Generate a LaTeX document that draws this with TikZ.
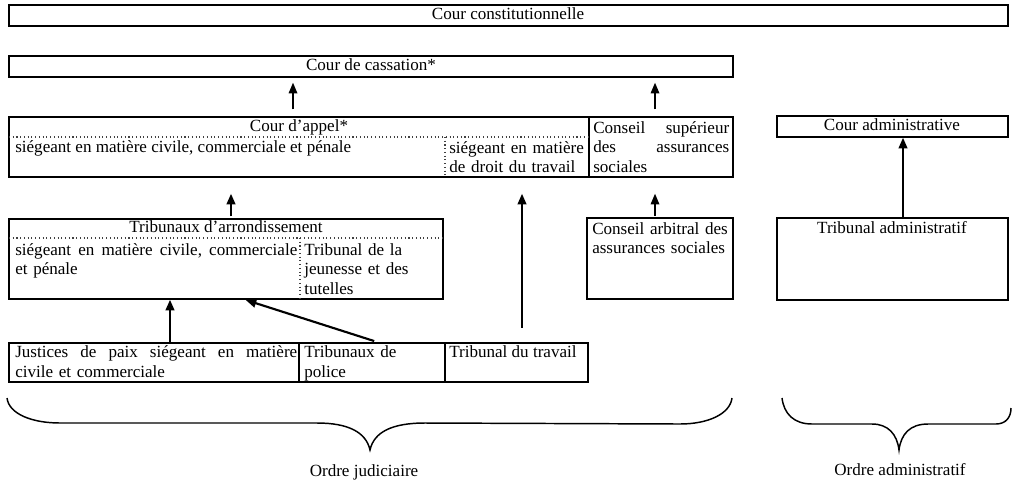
\documentclass[tikz,border=0pt]{standalone}
\usepackage{fontspec}
\setmainfont{Liberation Serif}
\usetikzlibrary{arrows.meta,fit}
\tikzset{
  bx/.style={draw, line width=1.1pt, inner sep=0pt, fit={#1}},
  lbl/.style={inner sep=0pt, anchor=mid},
  lblw/.style={inner sep=0pt, anchor=mid west},
  para/.style={inner sep=0pt, anchor=base west, text width=#1, align=left},
  dots/.style={dotted, line width=0.8pt, draw=black!75},
  divider/.style={line width=1.1pt},
  arr/.style={-{Triangle[length=8pt,width=6.5pt]}, line width=0.9pt},
  arrb/.style={arr, line width=1.6pt},
  brace/.style={line width=1.1pt}
}
\begin{document}
\begin{tikzpicture}[x=0.75pt,y=-0.75pt,font=\fontsize{12.8}{14.8}\selectfont]
\useasboundingbox (0,0) rectangle (1012,486);

% boxes
\node[bx={(9,5) (1008,26)}] (cc) {};
\node[lbl] (cct) at (508,16) {Cour constitutionnelle};

\node[bx={(9,56) (733,77)}] (cass) {};
\node[lbl] (casst) at (371,67) {Cour de cassation*};

\node[bx={(9,117) (733,177)}] (ca) {};
\draw[divider] (ca.north -| 589,0) -- (ca.south -| 589,0);
\draw[dots] (9,137) -- (589,137);
\draw[dots] (445,137) -- (ca.south -| 445,0);
\node[lbl] (cat) at (299,128.5) {Cour d’appel*};
\node[lblw] (cal) at (15,149) {siégeant en matière civile, commerciale et pénale};
\node[para=106pt] (car) at (449,153) {siégeant en matière\\de droit du travail};
\node[para=102pt] (csas) at (593,133) {Conseil\hfill supérieur\\des\hfill assurances\\sociales};

\node[bx={(777,116) (1008,137)}] (cadm) {};
\node[lbl] (cadmt) at (892,127.5) {Cour administrative};

\node[bx={(9,219) (443,299)}] (ta) {};
\draw[dots] (9,238) -- (443,238);
\draw[dots] (300,238) -- (ta.south -| 300,0);
\node[lbl] (tat) at (226,229) {Tribunaux d’arrondissement};
\node[para=211.5pt] (tal) at (15,255) {siégeant\hfill en\hfill matière\hfill civile,\hfill commerciale\\et pénale};
\node[para=104pt] (tjt) at (304,255) {Tribunal de la\\jeunesse et des\\tutelles};

\node[bx={(587,218) (733,299)}] (cas) {};
\node[para=106pt] (cast) at (592,234) {Conseil arbitral des\\assurances sociales};

\node[bx={(777,218) (1008,300)}] (tadm) {};
\node[lbl] (tadmt) at (892,230) {Tribunal administratif};

\node[bx={(9,343) (299,382)}] (jp) {};
\node[bx={(299,343) (445,382)}] (tp) {};
\node[bx={(445,343) (588,382)}] (tt) {};
\node[para=211.5pt] (jpt) at (15,357.5) {Justices\hfill de\hfill paix\hfill siégeant\hfill en\hfill matière\\civile et commerciale};
\node[para=104pt] (tpt) at (304,357.5) {Tribunaux de\\police};
\node[lblw] (ttt) at (449,354) {Tribunal du travail};

% arrows
\draw[arr, shorten <=5.25pt, shorten >=3.75pt] (ca.north -| 293,0) -- (cass.south -| 293,0);
\draw[arr, shorten <=5.25pt, shorten >=3.75pt] (ca.north -| 655,0) -- (cass.south -| 655,0);
\draw[arrb, shorten <=1.5pt, shorten >=12pt] (ta.north -| 231,0) -- (ca.south -| 231,0);
\draw[arr, shorten <=1pt, shorten >=12pt] (cas.north -| 655,0) -- (ca.south -| 655,0);
\draw[arrb, shorten <=11pt, shorten >=12pt] (tt.north -| 522,0) -- (ca.south -| 522,0);
\draw[arrb] (tadm.north -| 903,0) -- (cadm.south -| 903,0);
\draw[arrb] (jp.north -| 170,0) -- (ta.south -| 170,0);
\draw[arrb, shorten <=3pt, shorten >=0.5pt] (tp.north -| 378,0) -- (ta.south -| 245,0);

% braces
\draw[brace] (7,398) .. controls (9,414) and (32,423) .. (60,423) -- (317,423)
  .. controls (348,423) and (366,432) .. (370,450)
  .. controls (374,432) and (392,423) .. (425,423) -- (680,424)
  .. controls (708,424) and (730,414) .. (732,398);
\draw[brace] (782,398) .. controls (784,414) and (794,424) .. (812,424) -- (872,424)
  .. controls (888,424) and (897,434) .. (899,450)
  .. controls (901,434) and (910,424) .. (928,424) -- (996,424)
  .. controls (1006,424) and (1011,417) .. (1011,408);
\node[lbl] (oj) at (364,473) {Ordre judiciaire};
\node[lbl] (oa) at (900,472) {Ordre administratif};
\end{tikzpicture}
\end{document}
